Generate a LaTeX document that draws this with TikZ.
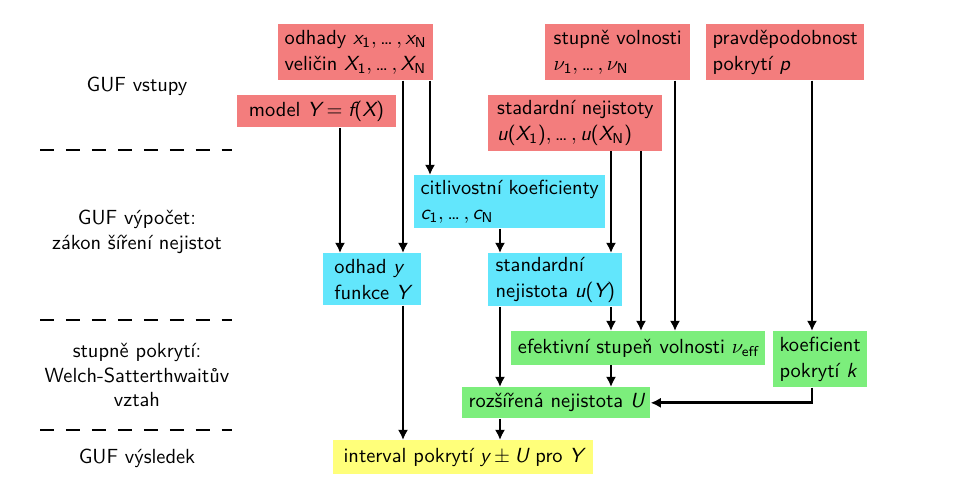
\documentclass[tikz,border=0pt]{standalone}
\usepackage{tikz}
\usepackage{xcolor}
\usetikzlibrary{arrows.meta,positioning}
\definecolor{gufRed}{HTML}{F37D7D}
\definecolor{gufCyan}{HTML}{62E6FC}
\definecolor{gufGreen}{HTML}{7CEE7C}
\definecolor{gufYellow}{HTML}{FFFF7A}
% sans serif maths, as on the slide
\DeclareSymbolFont{operators}{TU}{lmss}{m}{n}
\DeclareSymbolFont{sfletters}{TU}{lmss}{m}{sl}
\DeclareMathSymbol{x}{\mathalpha}{sfletters}{`x}
\DeclareMathSymbol{X}{\mathalpha}{sfletters}{`X}
\DeclareMathSymbol{Y}{\mathalpha}{sfletters}{`Y}
\DeclareMathSymbol{f}{\mathalpha}{sfletters}{`f}
\DeclareMathSymbol{u}{\mathalpha}{sfletters}{`u}
\DeclareMathSymbol{c}{\mathalpha}{sfletters}{`c}
\DeclareMathSymbol{y}{\mathalpha}{sfletters}{`y}
\DeclareMathSymbol{U}{\mathalpha}{sfletters}{`U}
\DeclareMathSymbol{k}{\mathalpha}{sfletters}{`k}
\DeclareMathSymbol{p}{\mathalpha}{sfletters}{`p}
\newcommand{\idx}{\mathrm{N}}
\newcommand{\sdots}{\mathinner{\hbox{\textellipsis}}}
\tikzset{
  box/.style={anchor=north west,inner xsep=3pt,inner ysep=2pt,align=left,
              font=\sffamily\fontsize{10}{12.5}\selectfont},
  inp/.style={box,fill=gufRed},
  calc/.style={box,fill=gufCyan},
  cov/.style={box,fill=gufGreen},
  res/.style={box,fill=gufYellow},
  stage/.style={align=center,font=\sffamily},
  sep/.style={line width=0.8pt,dash pattern=on 6.8pt off 5.9pt},
  arr/.style={-{Latex[length=5pt,width=5pt]},line width=1.3pt},
}
\begin{document}
\begin{tikzpicture}[x=0.172mm,y=-0.172mm]
        \useasboundingbox (0,0) rectangle (979,497);
        % stages on the left
        \node[stage] (s1) at (137,86) {GUF vstupy};
        \node[stage] (s2) at (137,232) {GUF výpočet:\\zákon šíření nejistot};
        \node[stage] (s3) at (137,375) {stupně pokrytí:\\Welch-Satterthwaitův\\vztah};
        \node[stage] (s4) at (137,458) {GUF výsledek};
        \draw[sep] (40,150) -- (232,150);
        \draw[sep] (40,320) -- (232,320);
        \draw[sep] (40,430) -- (232,430);
        % inputs
        \node[inp,minimum width=26.5mm,minimum height=9.6mm] (est) at (278,24)
          {odhady $x_1,\sdots,x_\idx$\\veličin $X_1,\sdots,X_\idx$};
        \node[inp,minimum width=24.9mm,minimum height=9.6mm] (dof) at (545,24)
          {stupně volnosti\\$\nu_1,\sdots,\nu_\idx$};
        \node[inp,minimum width=26.1mm,minimum height=9.6mm] (prob) at (706,24)
          {pravděpodobnost\\pokrytí $p$};
        \node[inp,minimum width=27.2mm,minimum height=5.5mm] (model) at (237,95)
          {model $Y=f(X)$};
        \node[inp,minimum width=29.9mm,minimum height=9.5mm] (unc) at (488,95)
          {stadardní nejistoty\\$u(X_1),\sdots,u(X_\idx)$};
        % propagation
        \node[calc,minimum width=32.3mm,minimum height=9.1mm] (sens) at (414,175)
          {citlivostní koeficienty\\$c_1,\sdots,c_\idx$};
        \node[calc,minimum width=16.7mm,minimum height=8.9mm] (esty) at (323,253)
          {odhad $y$\\funkce $Y$};
        \node[calc,minimum width=23mm,minimum height=8.9mm] (uy) at (488,253)
          {standardní\\nejistota $u(Y)$};
        % coverage
        \node[cov,minimum width=43.7mm,minimum height=5.7mm] (eff) at (511,331)
          {efektivní stupeň volnosti $\nu_{\mathrm{eff}}$};
        \node[cov,minimum width=14.6mm,minimum height=9.6mm] (kf) at (773,331)
          {koeficient\\pokrytí $k$};
        \node[cov,minimum width=32.3mm,minimum height=5.3mm] (exp) at (462,387)
          {rozšířená nejistota $U$};
        % result
        \node[res,minimum width=44.7mm,minimum height=5.8mm] (int) at (333,440)
          {interval pokrytí $y\pm U$ pro $Y$};
        % columns of the arrows
        \coordinate (cA) at (340,0);
        \coordinate (cB) at (403,0);
        \coordinate (cC) at (430,0);
        \coordinate (cD) at (500,0);
        \coordinate (cE) at (611,0);
        \coordinate (cF) at (641,0);
        \coordinate (cG) at (675,0);
        \coordinate (cH) at (812,0);
        \draw[arr] (model.south -| cA) -- (esty.north -| cA);
        \draw[arr] (est.south -| cB) -- (esty.north -| cB);
        \draw[arr] (est.south -| cC) -- (sens.north -| cC);
        \draw[arr] (sens.south -| cD) -- (uy.north -| cD);
        \draw[arr] (unc.south -| cE) -- (uy.north -| cE);
        \draw[arr] (unc.south -| cF) -- (eff.north -| cF);
        \draw[arr] (dof.south -| cG) -- (eff.north -| cG);
        \draw[arr] (prob.south -| cH) -- (kf.north -| cH);
        \draw[arr] (uy.south -| cE) -- (eff.north -| cE);
        \draw[arr] (uy.south -| cD) -- (exp.north -| cD);
        \draw[arr] (eff.south -| cE) -- (exp.north -| cE);
        \draw[arr] (kf.south -| cH) |- (exp.east);
        \draw[arr] (esty.south -| cB) -- (int.north -| cB);
        \draw[arr] (exp.south -| cD) -- (int.north -| cD);
      \end{tikzpicture}
\end{document}
